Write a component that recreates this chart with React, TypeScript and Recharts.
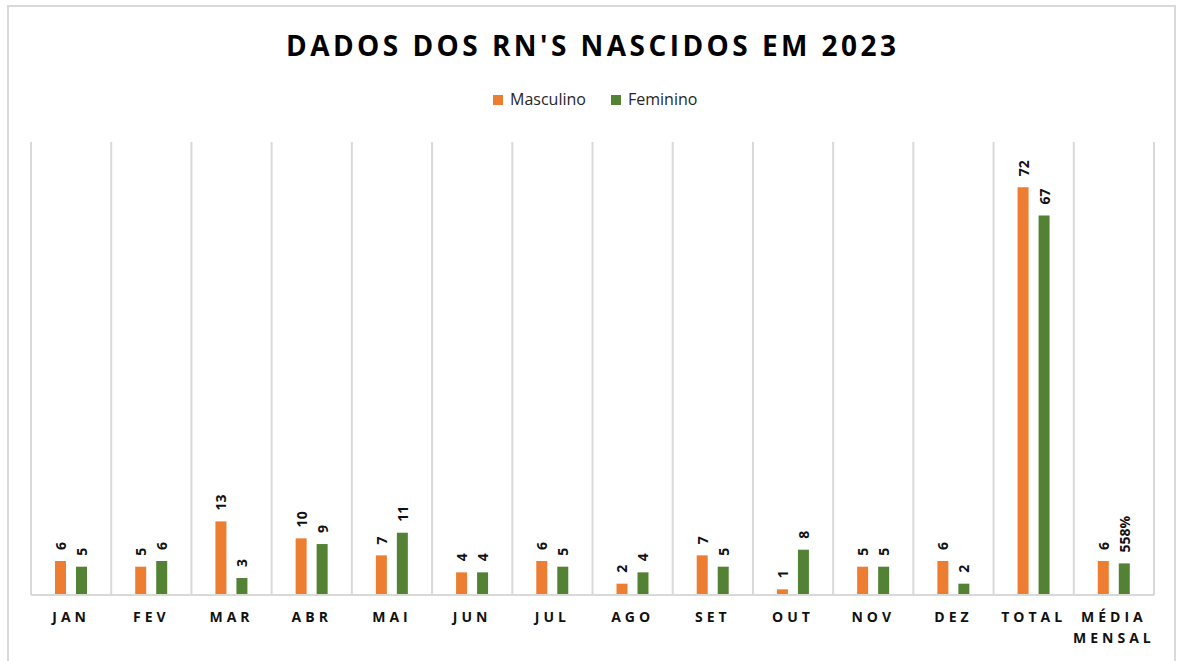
import React from "react";
import { BarChart, Bar, XAxis, YAxis, CartesianGrid, LabelList } from "recharts";

const categories = ["JAN", "FEV", "MAR", "ABR", "MAI", "JUN", "JUL", "AGO", "SET", "OUT", "NOV", "DEZ", "TOTAL", "MÉDIA MENSAL"];
const masculino = [6, 5, 13, 10, 7, 4, 6, 2, 7, 1, 5, 6, 72, 6];
const feminino = [5, 6, 3, 9, 11, 4, 5, 4, 5, 8, 5, 2, 67, 5.58];
const seriesNames = ["Masculino", "Feminino"];
const seriesColors = ["#ED7D31", "#548235"];
const title = "DADOS DOS RN'S NASCIDOS EM 2023";

const data = categories.map((c, i) => ({ cat: c, masculino: masculino[i], feminino: feminino[i] }));

const FONT = "'Open Sans', 'Noto Sans', sans-serif";
const GRID = "#d9d9d9";

const fmt = (v: number) => (Number.isInteger(v) ? String(v) : `${Math.round(v * 100)}%`);

const RotLabel = (props: any) => {
  const { x, y, width, value } = props;
  const cx = Number(x) + Number(width) / 2;
  const ty = Number(y) - 11;
  return (
    <text
      x={cx}
      y={ty}
      transform={`rotate(-90, ${cx}, ${ty})`}
      textAnchor="start"
      dominantBaseline="central"
      fontFamily={FONT}
      fontWeight={700}
      fontSize={14}
      fill="#111"
    >
      {fmt(Number(value))}
    </text>
  );
};

const CatTick = (props: any) => {
  const { x, y, payload } = props;
  const lines = String(payload.value).split(" ");
  return (
    <g>
      {lines.map((l, i) => (
        <text
          key={i}
          x={x}
          y={Number(y) + 27 + i * 21}
          textAnchor="middle"
          fontFamily={FONT}
          fontWeight={700}
          fontSize={14}
          letterSpacing={4}
          fill="#111"
        >
          {l}
        </text>
      ))}
    </g>
  );
};

const gridGen = (p: any) => {
  const off = p.offset;
  const n = categories.length;
  return Array.from({ length: n + 1 }, (_, i) => off.left + (i * off.width) / n);
};

export default function App() {
  return (
    <div style={{ position: "fixed", left: 0, top: 0, width: 1177, height: 661, overflow: "hidden", background: "#fff" }}>
      <div style={{ position: "absolute", left: 0, top: 0 }}>
        <BarChart
          width={1177}
          height={661}
          data={data}
          margin={{ top: 142, right: 23, left: 31, bottom: 16 }}
          barSize={11}
          barGap={10}
        >
          <CartesianGrid horizontal={false} vertical stroke={GRID} strokeWidth={2} verticalCoordinatesGenerator={gridGen} />
          <XAxis
            dataKey="cat"
            interval={0}
            height={50}
            tickLine={false}
            tickSize={0}
            tickMargin={0}
            axisLine={{ stroke: GRID, strokeWidth: 2 }}
            tick={<CatTick />}
          />
          <YAxis hide domain={[0, 80]} />
          <Bar dataKey="masculino" name={seriesNames[0]} fill={seriesColors[0]} isAnimationActive={false}>
            <LabelList dataKey="masculino" content={<RotLabel />} />
          </Bar>
          <Bar dataKey="feminino" name={seriesNames[1]} fill={seriesColors[1]} isAnimationActive={false}>
            <LabelList dataKey="feminino" content={<RotLabel />} />
          </Bar>
        </BarChart>
      </div>
      <svg style={{ position: "absolute", left: 0, top: 0, pointerEvents: "none" }} width={1177} height={661}>
        <rect x={8} y={6} width={1167} height={700} fill="none" stroke={GRID} strokeWidth={2} />
        <text
          x={286}
          y={56}
          fontFamily={FONT}
          fontWeight={700}
          fontSize={28}
          textLength={610}
          lengthAdjust="spacing"
          fill="#000"
        >
          {title}
        </text>
        {seriesNames.map((n, i) => {
          const sx = i === 0 ? 493 : 611;
          return (
            <g key={n}>
              <rect x={sx} y={95} width={10} height={10} fill={seriesColors[i]} />
              <text x={sx + 17} y={105} fontFamily={FONT} fontSize={16} fill="#262626">
                {n}
              </text>
            </g>
          );
        })}
      </svg>
    </div>
  );
}
